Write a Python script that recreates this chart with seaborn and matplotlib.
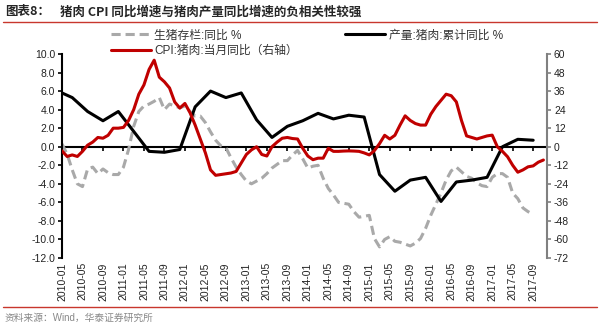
import matplotlib
matplotlib.use("Agg")
import matplotlib.pyplot as plt
from matplotlib.lines import Line2D
import numpy as np
import pandas as pd
import seaborn as sns

# ---------------- data (monthly, starting 2010-01) ----------------
gray_vals = [0.3, -0.8, -2.5, -4.0, -4.3, -2.4, -2.2, -2.9, -2.4, -2.8,
             -3.0, -3.0, -2.2, -0.3, 2.2, 3.8, 4.4, 4.6, 4.9, 5.3,
             4.0, 4.6, 4.4, 4.2, 4.4, 3.8, 3.3, 3.3, 2.6, 1.6,
             0.7, 0.1, -0.1, -1.2, -2.2, -3.0, -3.7, -4.0, -3.7, -3.4,
             -2.9, -2.3, -1.9, -1.5, -1.5, -0.9, -0.4, -1.3, -2.3, -2.1,
             -2.0, -3.4, -4.5, -5.2, -6.0, -6.1, -6.2, -7.0, -7.6, -7.5,
             -7.4, -9.9, -10.8, -10.0, -9.7, -10.2, -10.3, -10.5, -10.7, -10.4,
             -9.9, -8.8, -7.4, -6.2, -5.0, -3.6, -2.6, -2.2, -2.7, -3.2,
             -3.4, -3.9, -4.2, -4.3, -3.3, -2.9, -2.9, -3.3, -5.0, -5.6,
             -6.6, -7.0, -7.3]

red_vals = [-2.7, -6.3, -5.3, -6.3, -3.0, 1.0, 3.0, 6.0, 5.5, 7.4,
            12.0, 12.0, 12.5, 17.0, 24.0, 34.0, 40.0, 50.0, 56.0, 45.0,
            42.0, 38.0, 29.0, 25.0, 28.0, 22.0, 14.0, 5.0, -4.0, -15.0,
            -18.5, -18.0, -17.5, -17.0, -16.0, -10.5, -5.0, -2.0, 0.0, -5.0,
            -6.0, 0.0, 3.0, 5.5, 6.0, 5.3, 5.0, -1.0, -6.0, -8.4,
            -7.4, -7.4, -1.0, -3.0, -3.0, -2.8, -2.7, -2.8, -3.0, -4.0,
            -5.3, -2.5, 2.0, 7.4, 5.0, 7.4, 14.0, 20.0, 17.0, 15.0,
            14.0, 14.0, 21.0, 26.0, 30.0, 34.0, 33.0, 29.0, 17.0, 7.0,
            6.0, 5.0, 6.0, 7.0, 7.5, 0.0, -3.0, -6.5, -12.0, -16.5,
            -15.0, -13.0, -12.4, -10.0, -8.6]

black_dates = ["2010-01", "2010-03", "2010-06", "2010-09", "2010-12",
               "2011-06", "2011-09", "2011-12", "2012-03", "2012-06",
               "2012-09", "2012-12", "2013-03", "2013-06", "2013-09",
               "2013-12", "2014-03", "2014-06", "2014-09", "2014-12",
               "2015-03", "2015-06", "2015-09", "2015-12", "2016-03",
               "2016-06", "2016-09", "2016-12", "2017-03", "2017-06",
               "2017-09"]
black_vals = [5.8, 5.3, 3.8, 2.8, 3.8,
              -0.5, -0.6, -0.3, 4.3, 6.0,
              5.3, 5.8, 2.9, 1.0, 2.2,
              2.8, 3.6, 3.0, 3.4, 3.2,
              -3.0, -4.8, -3.6, -3.3, -5.9,
              -3.8, -3.6, -3.3, 0.0, 0.8,
              0.7]

tick_labels = [f"{y}-{m:02d}" for y in range(2010, 2018) for m in (1, 5, 9)]

label_gray = "生猪存栏:同比 %"
label_black = "产量:猪肉:累计同比 %"
label_red = "CPI:猪肉:当月同比（右轴）"


def month_index(s):
    y, m = s.split("-")
    return (int(y) - 2010) * 12 + int(m) - 1


df_gray = pd.DataFrame({"m": np.arange(len(gray_vals)), "v": gray_vals})
df_red = pd.DataFrame({"m": np.arange(len(red_vals)), "v": red_vals})
df_black = pd.DataFrame({"m": [month_index(d) for d in black_dates], "v": black_vals})
tick_pos = [month_index(t) for t in tick_labels]

# ---------------- style ----------------
sns.set_theme(style="white")
plt.rcParams["font.family"] = ["Liberation Sans", "Noto Sans CJK SC"]
plt.rcParams["axes.unicode_minus"] = False

RED = "#C00000"
GRAY = "#A9A9A9"

fig = plt.figure(figsize=(6.0, 3.27), dpi=100)
ax = fig.add_axes([62 / 600, 1 - 258 / 327, (547 - 62) / 600, (258 - 54) / 327])
ax2 = ax.twinx()

sns.lineplot(data=df_gray, x="m", y="v", ax=ax, color=GRAY, lw=2.2,
             linestyle=(0, (3, 1.6)), label=label_gray, legend=False)
sns.lineplot(data=df_black, x="m", y="v", ax=ax, color="black", lw=2.2,
             label=label_black, legend=False)
sns.lineplot(data=df_red, x="m", y="v", ax=ax2, color=RED, lw=2.2,
             label=label_red, legend=False)

ax.set_xlim(0, 94.7)
ax.set_ylim(-12, 10)
ax2.set_ylim(-72, 60)
ax.set_yticks(np.arange(-12, 10.1, 2))
ax.set_yticklabels([f"{v:.1f}" for v in np.arange(-12, 10.1, 2)])
ax2.set_yticks(np.arange(-72, 61, 12))
ax.set_xlabel("")
ax.set_ylabel("")
ax2.set_ylabel("")

ax.set_xticks(tick_pos)
ax.set_xticklabels(tick_labels, rotation=90)
ax.tick_params(axis="x", length=0, pad=3, labelsize=7.5, colors="#222222")
ax.tick_params(axis="y", left=True, direction="out", length=3, width=1.2,
               labelsize=7.5, color="black", labelcolor="#222222", pad=2)
ax2.tick_params(axis="y", right=True, direction="out", length=3, width=1.2,
                labelsize=7.5, color="#808080", labelcolor="#222222", pad=2)

for s in ("top", "bottom", "right"):
    ax.spines[s].set_visible(False)
ax.spines["left"].set_color("black")
ax.spines["left"].set_linewidth(1.5)
for s in ("top", "bottom", "left"):
    ax2.spines[s].set_visible(False)
ax2.spines["right"].set_color("#808080")
ax2.spines["right"].set_linewidth(1.5)

# zero line with tick marks
sec = ax.secondary_xaxis(12 / 22)
sec.set_alignment("bottom")
sec.set_xticks(tick_pos)
sec.tick_params(axis="x", bottom=True, direction="out", length=3, width=1.2,
                color="black", labelbottom=False, labeltop=False)
sec.spines["bottom"].set_color("black")
sec.spines["bottom"].set_linewidth(1.5)
sec.spines["top"].set_visible(False)

# legend
h1, l1 = ax.get_legend_handles_labels()
h2, l2 = ax2.get_legend_handles_labels()
handles = [h1[0], h2[0], h1[1]]
labels = [l1[0], l2[0], l1[1]]
fig.legend(handles, labels, loc="upper left", bbox_to_anchor=(100 / 600, 1 - 19 / 327),
           ncol=2, frameon=False, fontsize=8.5, handlelength=3.4,
           handletextpad=0.3, columnspacing=4.0, labelspacing=0.3,
           labelcolor="#333333")

# title, rules, footer
fig.text(5 / 600, 1 - 12 / 327, "图表8：", fontsize=9, fontweight="bold",
         va="center", ha="left", family=["Noto Sans CJK SC"])
fig.text(60 / 600, 1 - 12 / 327, "猪肉 CPI 同比增速与猪肉产量同比增速的负相关性较强",
         fontsize=9, fontweight="bold", va="center", ha="left",
         family=["Noto Sans CJK SC"])
fig.add_artist(Line2D([3 / 600, 597 / 600], [1 - 22 / 327, 1 - 22 / 327],
                      transform=fig.transFigure, color="#C8372D", lw=1.0))
fig.add_artist(Line2D([3 / 600, 597 / 600], [1 - 307 / 327, 1 - 307 / 327],
                      transform=fig.transFigure, color="#C8372D", lw=1.0))
fig.text(5 / 600, 1 - 318 / 327, "资料来源：Wind，华泰证券研究所", fontsize=7,
         color="#888888", va="center", ha="left")

fig.savefig("out.png", dpi=100)
